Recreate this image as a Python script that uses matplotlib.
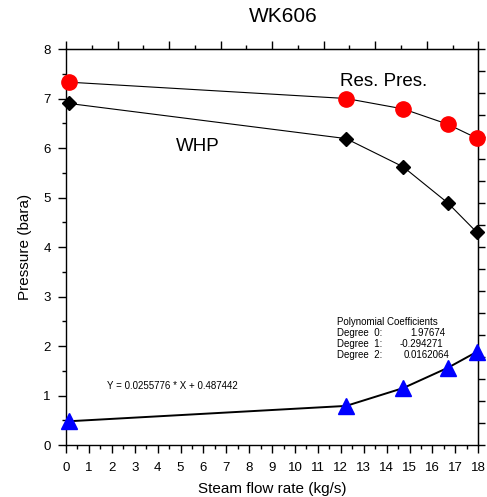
import matplotlib
matplotlib.use('Agg')
import matplotlib.pyplot as plt

plt.rcParams['font.family'] = ['Liberation Sans', 'DejaVu Sans']

# data
flow = [0.13, 12.23, 14.72, 16.67, 17.93]
res_pres = [7.33, 7.00, 6.79, 6.48, 6.20]
whp = [6.90, 6.19, 5.62, 4.89, 4.30]
low_curve = [0.48, 0.79, 1.15, 1.56, 1.88]

fig = plt.figure(figsize=(4.87, 4.97), dpi=100)
ax = fig.add_axes([0.1355, 0.1046, 0.8466, 0.7968])

ax.plot(flow, res_pres, color='black', lw=0.8, zorder=2)
ax.plot(flow, res_pres, 'o', color='red', ms=11, mec='red', zorder=3, clip_on=False)
ax.plot(flow, whp, color='black', lw=0.8, zorder=2)
ax.plot(flow, whp, 'D', color='black', ms=7.5, zorder=3, clip_on=False)
ax.plot(flow, low_curve, color='black', lw=1.4, zorder=2)
ax.plot(flow, low_curve, '^', color='blue', ms=11, mec='blue', zorder=3, clip_on=False)

ax.set_xlim(0, 18)
ax.set_ylim(0, 8)
ax.set_xticks(range(0, 19))
ax.set_xticks([i + 0.5 for i in range(18)], minor=True)
ax.set_yticks(range(0, 9))
ax.set_yticks([i + 0.5 for i in range(8)], minor=True)
ax.tick_params(which='major', direction='out', length=6, width=1, labelsize=9.5, pad=5)
ax.tick_params(which='minor', direction='out', length=3, width=1)
ax.tick_params(axis='x', which='major', pad=6)
for s in ax.spines.values():
    s.set_linewidth(1)

# top and right axes carry their own scales
top = ax.secondary_xaxis('top', functions=(lambda x: x * 8 / 18, lambda x: x * 18 / 8))
top.set_xticks(range(0, 9))
top.set_xticks([i + 0.5 for i in range(8)], minor=True)
top.tick_params(which='major', direction='out', length=6, width=1, labeltop=False)
top.tick_params(which='minor', direction='out', length=3, width=1)
right = ax.secondary_yaxis('right', functions=(lambda y: y * 18 / 8, lambda y: y * 8 / 18))
right.set_yticks(range(0, 19))
right.tick_params(which='major', direction='out', length=5, width=1, labelright=False)
right.tick_params(which='minor', length=0)

ax.set_xlabel('Steam flow rate (kg/s)', fontsize=11, labelpad=6)
ax.set_ylabel('Pressure (bara)', fontsize=11, labelpad=8)
fig.text(283 / 487, 1 - 17 / 497, 'WK606', fontsize=15, ha='center', va='center')

ax.text(13.87, 7.35, 'Res. Pres.', fontsize=13.5, ha='center', va='center')
ax.text(5.76, 6.03, 'WHP', fontsize=13.5, ha='center', va='center')
ax.text(1.79, 1.19, 'Y = 0.0255776 * X + 0.487442', fontsize=7, ha='left', va='center')

ax.text(11.82, 2.48, 'Polynomial Coefficients', fontsize=7, ha='left', va='center')
deg_labels = ['Degree  0:', 'Degree  1:', 'Degree  2:']
coef_text = ['1.97674', '-0.294271', '0.0162064']
coef_x = [15.02, 14.55, 14.73]
coef_y = [2.26, 2.04, 1.82]
for lab, val, cx, cy in zip(deg_labels, coef_text, coef_x, coef_y):
    ax.text(11.82, cy, lab, fontsize=7, ha='left', va='center')
    ax.text(cx, cy, val, fontsize=7, ha='left', va='center')

fig.savefig('out.png', dpi=100)
